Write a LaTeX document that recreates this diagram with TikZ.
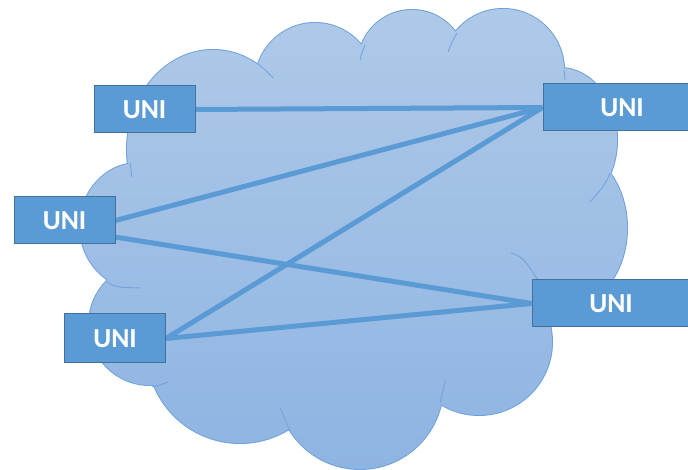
\documentclass[tikz,border=0pt]{standalone}
\usepackage{fontspec}
\setmainfont{Carlito}
\usetikzlibrary{backgrounds}
\definecolor{cloudtop}{HTML}{AFC9E8}
\definecolor{cloudbot}{HTML}{8EB4E2}
\definecolor{cloudline}{HTML}{6FA2DA}
\definecolor{unifill}{HTML}{5B9BD5}
\definecolor{uniedge}{HTML}{41719C}
\tikzset{uni/.style={draw=uniedge,fill=unifill,line width=1pt,minimum width=101pt,minimum height=47pt,
    inner sep=0pt,text=white,font=\fontsize{27.5}{29}\selectfont\bfseries},
  wideuni/.style={uni,minimum width=158pt},
  link/.style={unifill,line width=5pt},
  seam/.style={cloudline,line width=0.8pt}}
% lobes of the cloud, and a core polygon through their centres
\newcommand{\cloudlobes}{(213,320) ellipse[x radius=86,y radius=100]
  (315,387) circle[radius=60] (412,406) circle[radius=54] (503,400) circle[radius=61]
  (560,330) ellipse[x radius=57,y radius=72] (558,242) ellipse[x radius=69,y radius=84]
  (479,128) circle[radius=73] (360,84) circle[radius=83] (240,120) circle[radius=93]
  (150,146) circle[radius=61] (138,244) ellipse[x radius=58,y radius=63]
  (213,320) -- (138,244) -- (150,146) -- (240,120) -- (360,84) -- (479,128)
  -- (558,242) -- (560,330) -- (503,400) -- (412,406) -- (315,387) -- cycle}

\begin{document}
\begin{tikzpicture}[x=1pt,y=1pt]
\useasboundingbox (0,0) rectangle (688,470);
\clip (0,0) rectangle (688,470);
% UNI boxes
\node[uni] (uniA) at (144.5,360.5) {UNI};
\node[wideuni] (uniB) at (622,362.5) {UNI};
\node[uni] (uniC) at (64.5,249.5) {UNI};
\node[uni,minimum height=49pt] (uniD) at (115,131.5) {UNI};
\node[wideuni] (uniE) at (611,166.5) {UNI};
\begin{pgfonlayer}{background}
% cloud
\draw[cloudline,line width=2pt] \cloudlobes;
\shade[top color=cloudtop,bottom color=cloudbot] \cloudlobes;
\draw[seam] (256.7,407) to[out=-38,in=132] (273,392);
\draw[seam] (360,410) to[out=80,in=-110] (365,425);
\draw[seam] (448,418) to[out=70,in=-120] (457,437);
\draw[seam] (564,400) to[out=-85,in=95] (565,390);
\draw[seam] (610,297) to[out=-110,in=50] (590,268);
\draw[seam] (511,217) to[out=-15,in=125] (538,190);
\draw[seam] (130,307) to[out=-80,in=95] (131.7,293);
\draw[seam] (107,188) to[out=-35,in=175] (140,182);
\draw[seam] (152,83) to[out=10,in=-160] (168,88);
\draw[seam] (280,62) to[out=-65,in=115] (290,40);
\draw[seam] (440,67) to[out=80,in=-95] (445,90);
% links
\draw[link] (uniA.east) -- (uniB.west);
\draw[link] (uniC.east) -- (uniB.west);
\draw[link] (uniD.east) -- (uniB.west);
\draw[link] (uniC.-18) -- (uniE.west);
\draw[link] (uniD.east) -- (uniE.west);
\end{pgfonlayer}
\end{tikzpicture}
\end{document}
